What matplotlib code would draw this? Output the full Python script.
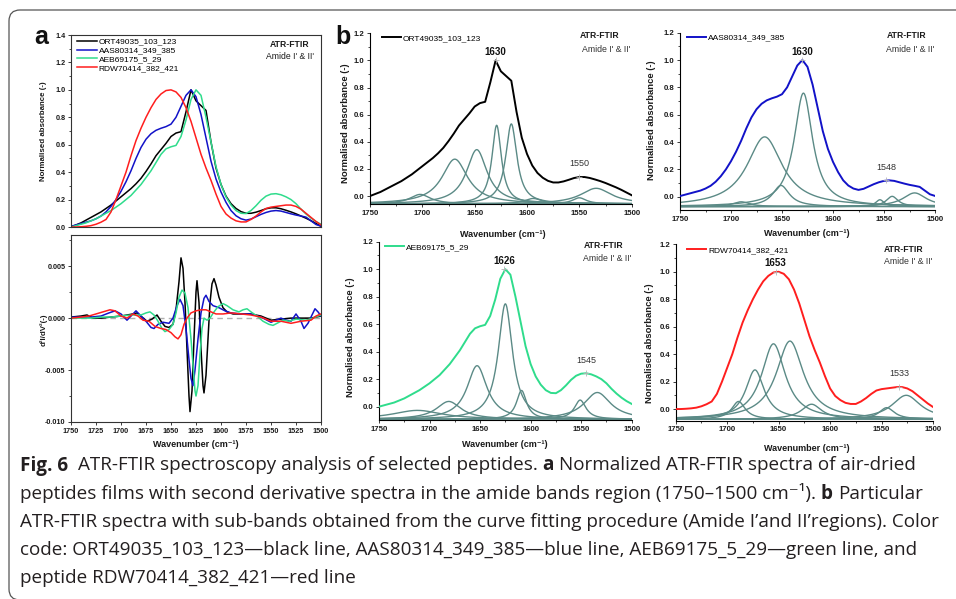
import numpy as np
import matplotlib
matplotlib.use("Agg")
import matplotlib.pyplot as plt
from matplotlib.patches import FancyBboxPatch
from matplotlib.transforms import IdentityTransform
from matplotlib.ticker import MultipleLocator, FormatStrFormatter

# ---------------- data ----------------
wavenumber = list(range(1750, 1499, -5))

ort_abs = [0.000, 0.015, 0.030, 0.050, 0.070, 0.090, 0.110, 0.135, 0.160, 0.190,
           0.220, 0.250, 0.280, 0.315, 0.355, 0.405, 0.460, 0.520, 0.565, 0.610,
           0.660, 0.685, 0.695, 0.840, 1.000, 0.920, 0.885, 0.850, 0.620, 0.430,
           0.310, 0.225, 0.170, 0.135, 0.112, 0.100, 0.100, 0.108, 0.120, 0.133,
           0.140, 0.140, 0.133, 0.122, 0.110, 0.096, 0.080, 0.064, 0.046, 0.026, 0.006]
aas_abs = [0.005, 0.015, 0.025, 0.035, 0.045, 0.060, 0.080, 0.110, 0.150, 0.200,
           0.260, 0.330, 0.410, 0.500, 0.580, 0.640, 0.680, 0.705, 0.720, 0.732,
           0.750, 0.800, 0.880, 0.960, 1.000, 0.950, 0.820, 0.650, 0.480, 0.350,
           0.255, 0.180, 0.120, 0.082, 0.060, 0.050, 0.058, 0.075, 0.092, 0.106,
           0.116, 0.120, 0.116, 0.106, 0.096, 0.087, 0.080, 0.072, 0.045, 0.018, 0.006]
aeb_abs = [0.000, 0.010, 0.020, 0.030, 0.045, 0.060, 0.080, 0.100, 0.120, 0.145,
           0.170, 0.200, 0.230, 0.270, 0.310, 0.360, 0.410, 0.470, 0.530, 0.570,
           0.585, 0.595, 0.660, 0.780, 0.930, 1.000, 0.960, 0.800, 0.620, 0.440,
           0.310, 0.220, 0.160, 0.120, 0.100, 0.098, 0.120, 0.155, 0.195, 0.225,
           0.240, 0.243, 0.235, 0.220, 0.200, 0.170, 0.130, 0.095, 0.065, 0.040, 0.020]
rdw_abs = [0.000, 0.000, 0.002, 0.005, 0.010, 0.020, 0.035, 0.055, 0.110, 0.200,
           0.300, 0.400, 0.520, 0.630, 0.720, 0.800, 0.870, 0.930, 0.970, 0.995,
           1.000, 0.985, 0.945, 0.870, 0.770, 0.650, 0.530, 0.430, 0.340, 0.240,
           0.150, 0.095, 0.065, 0.045, 0.037, 0.037, 0.055, 0.080, 0.110, 0.135,
           0.145, 0.150, 0.155, 0.160, 0.160, 0.150, 0.130, 0.100, 0.070, 0.040, 0.015]

# second derivative spectra (wavenumber, value)
ort_d2_wn = [1750, 1740, 1734, 1728, 1720, 1710, 1700, 1694, 1688, 1684, 1679, 1674, 1669,
             1664, 1660, 1656, 1652, 1648, 1645, 1642, 1640, 1638, 1636, 1634, 1632, 1631,
             1629, 1627, 1625, 1624, 1622, 1620, 1618, 1617, 1615, 1613, 1611, 1609, 1607,
             1605, 1602, 1598, 1594, 1588, 1580, 1571, 1560, 1550, 1540, 1530, 1520, 1510, 1500]
ort_d2 = [0.0001, 0.0002, 0.0003, 0.0000, 0.0000, 0.0001, 0.0002, 0.0003, 0.0004, 0.0005,
          0.0001, -0.0003, -0.0001, 0.0003, -0.0003, -0.0008, -0.0009, -0.0006, 0.0008,
          0.0035, 0.0058, 0.0048, 0.0015, -0.0030, -0.0075, -0.0090, -0.0070, -0.0020,
          0.0025, 0.0036, 0.0015, -0.0030, -0.0065, -0.0072, -0.0055, -0.0020, 0.0015,
          0.0033, 0.0038, 0.0032, 0.0020, 0.0010, 0.0006, 0.0004, 0.0004, 0.0004, 0.0002,
          -0.0002, -0.0001, 0.0000, 0.0000, 0.0000, 0.0002]
aas_d2_wn = [1750, 1740, 1730, 1720, 1712, 1706, 1700, 1694, 1690, 1685, 1680, 1675, 1670,
             1667, 1663, 1658, 1652, 1648, 1644, 1641, 1638, 1635, 1632, 1630, 1628, 1626,
             1623, 1620, 1617, 1615, 1612, 1608, 1602, 1596, 1590, 1580, 1570, 1560, 1550,
             1545, 1540, 1535, 1530, 1525, 1520, 1517, 1513, 1509, 1506, 1503, 1500]
aas_d2 = [0.0001, 0.0001, 0.0001, 0.0002, 0.0005, 0.0007, 0.0004, -0.0002, 0.0002, 0.0007,
          0.0002, -0.0003, -0.0009, -0.0010, -0.0006, -0.0004, -0.0005, 0.0000, 0.0012,
          0.0018, 0.0012, -0.0010, -0.0040, -0.0058, -0.0065, -0.0050, -0.0020, 0.0005,
          0.0019, 0.0022, 0.0016, 0.0012, 0.0010, 0.0007, 0.0005, 0.0004, 0.0004, 0.0001,
          -0.0004, -0.0002, 0.0000, -0.0002, -0.0003, 0.0004, -0.0003, -0.0010, -0.0005,
          0.0003, 0.0009, 0.0006, 0.0002]
aeb_d2_wn = [1750, 1740, 1730, 1720, 1710, 1700, 1690, 1680, 1675, 1671, 1667, 1663, 1659,
             1656, 1652, 1648, 1645, 1642, 1639, 1636, 1633, 1630, 1628, 1626, 1625, 1623,
             1621, 1619, 1617, 1614, 1611, 1607, 1603, 1598, 1594, 1588, 1582, 1578, 1574,
             1570, 1564, 1558, 1552, 1548, 1544, 1538, 1532, 1525, 1515, 1508, 1500]
aeb_d2 = [0.0000, 0.0000, 0.0000, 0.0001, 0.0001, 0.0002, 0.0003, 0.0003, 0.0005, 0.0006,
          0.0003, -0.0003, -0.0010, -0.0013, -0.0011, -0.0006, 0.0005, 0.0020, 0.0027,
          0.0024, 0.0010, -0.0020, -0.0045, -0.0070, -0.0075, -0.0065, -0.0035, -0.0010,
          0.0000, -0.0002, 0.0000, 0.0006, 0.0011, 0.0014, 0.0012, 0.0008, 0.0006, 0.0008,
          0.0009, 0.0006, 0.0002, -0.0003, -0.0006, -0.0007, -0.0005, -0.0002, -0.0003,
          -0.0001, -0.0002, 0.0000, 0.0003]
rdw_d2_wn = [1750, 1740, 1732, 1725, 1718, 1711, 1706, 1700, 1694, 1688, 1683, 1678, 1672,
             1666, 1660, 1655, 1650, 1646, 1643, 1640, 1637, 1634, 1630, 1625, 1620, 1615,
             1610, 1605, 1598, 1590, 1580, 1570, 1560, 1550, 1540, 1530, 1520, 1510, 1505, 1500]
rdw_d2 = [0.0000, 0.0001, 0.0002, 0.0004, 0.0006, 0.0008, 0.0007, 0.0002, 0.0000, 0.0004,
          0.0002, -0.0002, -0.0003, -0.0008, -0.0010, -0.0011, -0.0014, -0.0018, -0.0020,
          -0.0016, -0.0006, 0.0000, 0.0005, 0.0007, 0.0008, 0.0008, 0.0006, 0.0004, 0.0004,
          0.0005, 0.0004, 0.0003, 0.0001, -0.0003, -0.0003, -0.0005, -0.0003, -0.0002,
          0.0002, 0.0004]

# fitted sub-bands: (centre cm-1, height above baseline, FWHM cm-1)
ort_bands = [(1702, 0.07, 24), (1669, 0.33, 30), (1648, 0.40, 24), (1629, 0.58, 11),
             (1615, 0.59, 13), (1594, 0.04, 20), (1550, 0.045, 16), (1534, 0.115, 36)]
aas_bands = [(1690, 0.035, 20), (1667, 0.51, 42), (1651, 0.155, 20), (1629, 0.83, 22),
             (1554, 0.05, 10), (1542, 0.075, 14), (1520, 0.10, 28)]
aeb_bands = [(1712, 0.065, 60), (1681, 0.13, 30), (1653, 0.39, 24), (1625, 0.84, 17),
             (1609, 0.21, 12), (1551, 0.14, 14), (1534, 0.195, 32)]
rdw_bands = [(1689, 0.13, 16), (1673, 0.36, 22), (1655, 0.55, 28), (1639, 0.57, 32),
             (1618, 0.11, 24), (1545, 0.085, 18), (1526, 0.175, 34)]
band_baselines = [-0.058, -0.072, -0.092, -0.075]

# labelled peak maxima: (wavenumber, absorbance, label, bold)
ort_peaks = [(1630, 1.00, "1630", True), (1550, 0.140, "1550", False)]
aas_peaks = [(1630, 1.00, "1630", True), (1548, 0.120, "1548", False)]
aeb_peaks = [(1626, 1.00, "1626", True), (1545, 0.243, "1545", False)]
rdw_peaks = [(1653, 1.00, "1653", True), (1533, 0.160, "1533", False)]

names = ["ORT49035_103_123", "AAS80314_349_385", "AEB69175_5_29", "RDW70414_382_421"]
colors = ["#000000", "#1212c8", "#2fdc8c", "#ff1e1e"]
TEAL = "#5b8a86"

caption_lines = [
    [("Fig. 6", "bold"), ("  ATR-FTIR spectroscopy analysis of selected peptides. ", "normal"),
     ("a", "bold"), (" Normalized ATR-FTIR spectra of air-dried", "normal")],
    [("peptides films with second derivative spectra in the amide bands region (1750\u20131500 cm\u207b\u00b9). ", "normal"),
     ("b", "bold"), (" Particular", "normal")],
    [("ATR-FTIR spectra with sub-bands obtained from the curve fitting procedure (Amide I\u2019and II\u2019regions). Color", "normal")],
    [("code: ORT49035_103_123\u2014black line, AAS80314_349_385\u2014blue line, AEB69175_5_29\u2014green line, and", "normal")],
    [("peptide RDW70414_382_421\u2014red line", "normal")],
]

# ---------------- style ----------------
W, H = 956, 599
plt.rcParams['font.family'] = ['Liberation Sans', 'DejaVu Sans']
plt.rcParams['axes.unicode_minus'] = False
TXT = "#1a1a1a"
CAP_FAMILY = ["Open Sans", "DejaVu Sans"]

fig = plt.figure(figsize=(W / 100, H / 100), dpi=100)
fig.patch.set_facecolor("white")


def rect(l, t, r, b):
    return [l / W, 1 - b / H, (r - l) / W, (b - t) / H]


def ftext(x, y, s, **kw):
    return fig.text(x / W, 1 - y / H, s, **kw)


def bold_ticks(ax):
    for lab in ax.get_xticklabels() + ax.get_yticklabels():
        lab.set_fontweight("bold")


# frame
frame = FancyBboxPatch((9, -1), 1100, H - 10 + 1, boxstyle="round,pad=0,rounding_size=11",
                       transform=IdentityTransform(), facecolor="none", edgecolor="#555555",
                       linewidth=0.9)
fig.add_artist(frame)

# ---------------- panel a ----------------
ax_a1 = fig.add_axes(rect(71, 35, 321, 227))
ax_a2 = fig.add_axes(rect(71, 235, 321, 422))

spectra = [ort_abs, aas_abs, aeb_abs, rdw_abs]
for y, c, n in zip(spectra, colors, names):
    ax_a1.plot(wavenumber, y, color=c, lw=1.1, label=n)
ax_a1.set_xlim(1750, 1500)
ax_a1.set_ylim(0, 1.4)
ax_a1.yaxis.set_major_locator(MultipleLocator(0.2))
ax_a1.yaxis.set_minor_locator(MultipleLocator(0.1))
ax_a1.yaxis.set_major_formatter(FormatStrFormatter("%.1f"))
ax_a1.tick_params(axis="y", which="major", labelsize=5.2, length=2.5, width=0.6, pad=1.5, colors=TXT)
ax_a1.tick_params(axis="y", which="minor", length=1.5, width=0.5)
ax_a1.tick_params(axis="x", which="both", bottom=False, labelbottom=False)
for sp in ax_a1.spines.values():
    sp.set_linewidth(0.8)
    sp.set_color("#333333")
ax_a1.set_ylabel("Normalised absorbance (-)", fontsize=5.7, fontweight="bold", color=TXT, va="center")
ax_a1.yaxis.set_label_coords(-0.111, 0.5)
ax_a1.legend(loc="upper left", bbox_to_anchor=(0.022, 0.985), frameon=False, fontsize=6,
             handlelength=2.4, handletextpad=0.25, labelspacing=0.12, borderpad=0, borderaxespad=0)
bold_ticks(ax_a1)

d2_series = [(ort_d2_wn, ort_d2), (aas_d2_wn, aas_d2), (aeb_d2_wn, aeb_d2), (rdw_d2_wn, rdw_d2)]
ax_a2.axhline(0, color="#b0b0b0", lw=1.0, ls=(0, (4, 3)), zorder=1)
for (xw, yv), c in zip(d2_series, colors):
    ax_a2.plot(xw, yv, color=c, lw=1.1, zorder=2)
ax_a2.set_xlim(1750, 1500)
ax_a2.set_ylim(-0.010, 0.008)
ax_a2.set_yticks([-0.010, -0.005, 0.000, 0.005])
ax_a2.yaxis.set_minor_locator(MultipleLocator(0.0025))
ax_a2.yaxis.set_major_formatter(FormatStrFormatter("%.3f"))
ax_a2.xaxis.set_major_locator(MultipleLocator(25))
ax_a2.tick_params(axis="both", which="major", labelsize=5.2, length=2.5, width=0.6, pad=1.5, colors=TXT)
ax_a2.tick_params(axis="y", which="minor", length=1.5, width=0.5)
for sp in ax_a2.spines.values():
    sp.set_linewidth(0.8)
    sp.set_color("#333333")
ax_a2.set_ylabel("d\u00b2I/dV\u00b2(-)", fontsize=5.7, fontweight="bold", color=TXT, va="center")
ax_a2.yaxis.set_label_coords(-0.111, 0.492)
ax_a2.set_xlabel("Wavenumber (cm\u207b\u00b9)", fontsize=6.5, fontweight="bold", color=TXT, va="center")
ax_a2.xaxis.set_label_coords(0.5, -0.119)
bold_ticks(ax_a2)

ftext(289.3, 44.3, "ATR-FTIR", fontsize=6.2, fontweight="bold", ha="center", va="center", color=TXT)
ftext(290, 56.7, "Amide I' & II'", fontsize=6.2, ha="center", va="center", color=TXT)
ftext(41.5, 37.5, "a", fontsize=18, fontweight="bold", ha="center", va="center", color="#111111")

# ---------------- panel b ----------------
b_layout = [
    # axes rect (l,t,r,b), ymin, legend anchor, ylabel coords, xlabel coords, ATR pos, Amide pos
    ((370, 33.3, 631.7, 204.3), -0.061, (0.045, 0.995), (-0.092, 0.474), (0.509, -0.174), (600, 36), (606, 49.3)),
    ((680, 32.7, 935, 210), -0.097, (0.026, 0.995), (-0.111, 0.508), (0.497, -0.135), (906.7, 36), (910, 49.3)),
    ((379, 241.7, 631.7, 420), -0.097, (0.024, 0.99), (-0.112, 0.467), (0.499, -0.140), (604, 246), (606.7, 258.3)),
    ((675.7, 244.3, 933, 420.7), -0.085, (0.043, 0.99), (-0.10, 0.439), (0.509, -0.156), (904, 249), (908, 261.7)),
]
b_bands = [ort_bands, aas_bands, aeb_bands, rdw_bands]
b_peaks = [ort_peaks, aas_peaks, aeb_peaks, rdw_peaks]
x_fit = np.linspace(1750, 1500, 501)

for i in range(4):
    r, ymin, leg_xy, ylc, xlc, atr_pos, am_pos = b_layout[i]
    ax = fig.add_axes(rect(*r))
    base = band_baselines[i]
    for (c0, h, w) in b_bands[i]:
        ax.plot(x_fit, base + h / (1 + ((x_fit - c0) / (w / 2)) ** 2), color=TEAL, lw=1.0, zorder=2)
    ax.plot(wavenumber, spectra[i], color=colors[i], lw=1.4, label=names[i], zorder=3)
    for (pw, pa, lab, bold) in b_peaks[i]:
        ax.plot([pw], [pa], marker="+", ms=4.5, mew=0.6, color="#b5b5b5", zorder=4)
        off = 6.0 if bold else 9.5
        ax.annotate(lab, (pw, pa), xytext=(0, off), textcoords="offset points",
                    ha="center", va="center", fontsize=7 if bold else 6.5,
                    fontweight="bold" if bold else "normal", color="#111111" if bold else "#333333")
    ax.set_xlim(1750, 1500)
    ax.set_ylim(ymin, 1.2)
    ax.set_yticks([0.0, 0.2, 0.4, 0.6, 0.8, 1.0, 1.2])
    ax.yaxis.set_minor_locator(MultipleLocator(0.1))
    ax.yaxis.set_major_formatter(FormatStrFormatter("%.1f"))
    ax.xaxis.set_major_locator(MultipleLocator(50))
    ax.xaxis.set_minor_locator(MultipleLocator(25))
    ax.spines["top"].set_visible(False)
    ax.spines["right"].set_visible(False)
    for sp in ("left", "bottom"):
        ax.spines[sp].set_linewidth(0.8)
    ax.tick_params(axis="both", which="major", labelsize=5.6, length=2.5, width=0.6, pad=1.5, colors=TXT)
    ax.tick_params(axis="both", which="minor", length=1.5, width=0.5)
    ax.set_ylabel("Normalised absorbance (-)", fontsize=6.8, fontweight="bold", color=TXT, va="center")
    ax.yaxis.set_label_coords(*ylc)
    ax.set_xlabel("Wavenumber (cm\u207b\u00b9)", fontsize=6.5, fontweight="bold", color=TXT, va="center")
    ax.xaxis.set_label_coords(*xlc)
    ax.legend(loc="upper left", bbox_to_anchor=leg_xy, frameon=False, fontsize=6,
              handlelength=2.3, handletextpad=0.25, borderpad=0, borderaxespad=0)
    bold_ticks(ax)
    ftext(atr_pos[0], atr_pos[1], "ATR-FTIR", fontsize=6.2, fontweight="bold", ha="center", va="center", color=TXT)
    ftext(am_pos[0], am_pos[1], "Amide I' & II'", fontsize=6.3, ha="center", va="center", color="#333333")

ftext(343, 37, "b", fontsize=18, fontweight="bold", ha="center", va="center", color="#111111")

# ---------------- caption ----------------
renderer = fig.canvas.get_renderer()


def adv(s, size, weight):
    kw = dict(fontsize=size, fontweight=weight, family=CAP_FAMILY)
    t1 = fig.text(0, 0, "." + s + ".", **kw)
    t2 = fig.text(0, 0, "..", **kw)
    w = t1.get_window_extent(renderer).width - t2.get_window_extent(renderer).width
    t1.remove()
    t2.remove()
    return w


def line_width(segs, size):
    return sum(adv(s, size, wgt) for s, wgt in segs)


ref_size = 10.0
cap_size = ref_size * 894.0 / line_width(caption_lines[3], ref_size)
baselines = [470.5, 498.8, 527, 555.2, 583.4]
for segs, yb in zip(caption_lines, baselines):
    x = 20.0
    for s, wgt in segs:
        sp_adv = adv(" ", cap_size, wgt)
        lead = len(s) - len(s.lstrip(" "))
        trail = len(s) - len(s.rstrip(" "))
        core = s.strip(" ")
        x += lead * sp_adv
        ftext(x, yb, core, fontsize=cap_size, fontweight=wgt, family=CAP_FAMILY,
              ha="left", va="baseline", color="#231f20")
        x += adv(core, cap_size, wgt) + trail * sp_adv

fig.savefig("out.png", dpi=100, facecolor="white")
